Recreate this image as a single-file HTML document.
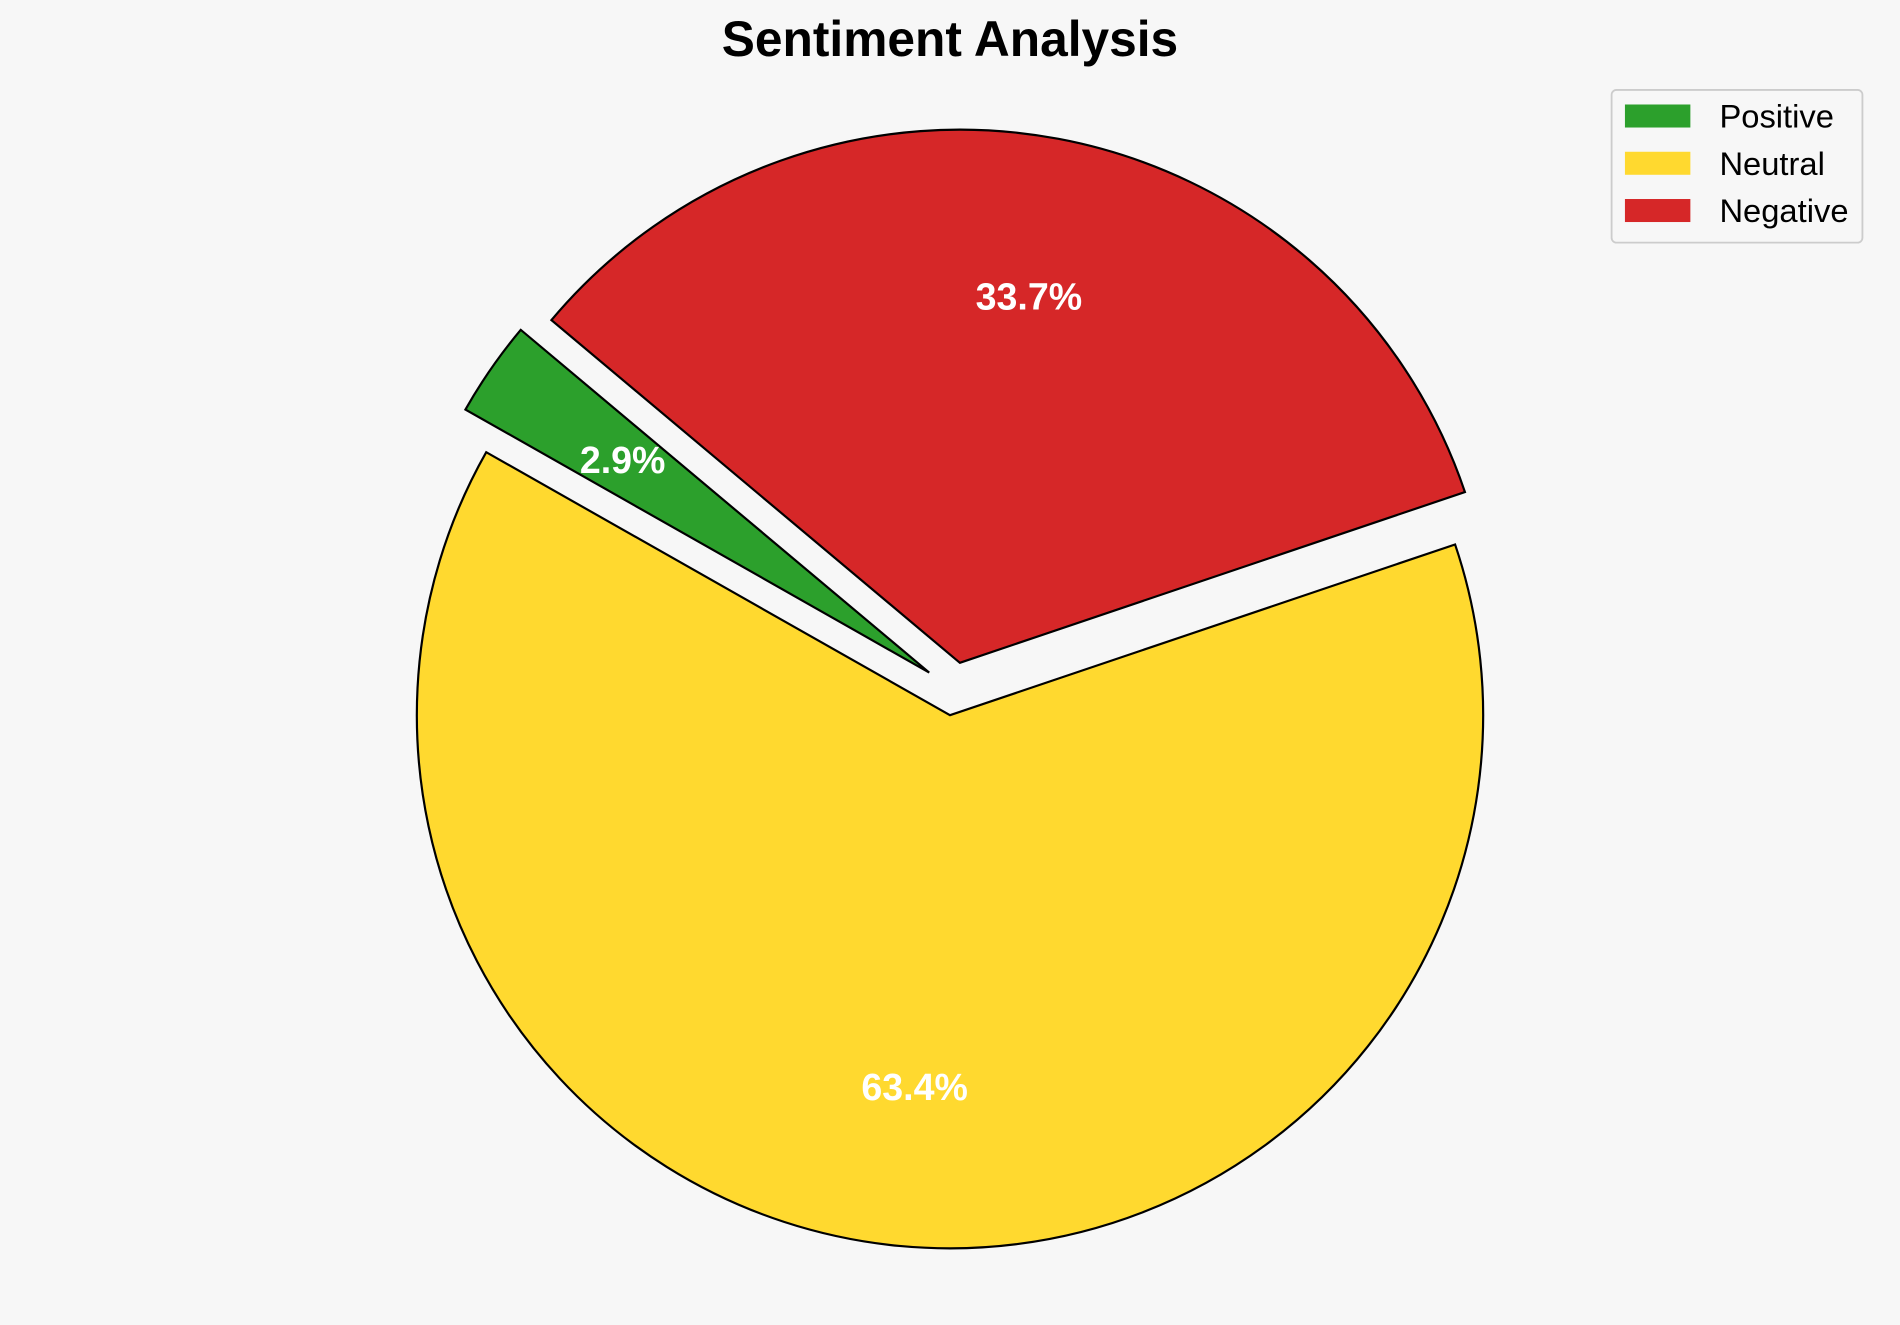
<!DOCTYPE html>
<html><head><meta charset="utf-8">
<style>
html,body{margin:0;padding:0;background:#f7f7f7;}
svg{display:block;font-family:"Liberation Sans",Arial,sans-serif;}
</style></head>
<body>
<svg id="chart" width="1900" height="1325" viewBox="0 0 1568 1093" xmlns="http://www.w3.org/2000/svg">
<rect width="1568" height="1093" fill="#f7f7f7"/>
<text x="784" y="46" text-anchor="middle" font-size="41" font-weight="bold" fill="#000">Sentiment Analysis</text>
<g id="wedges"></g>
<g id="labels"></g>
<g>
<rect x="1330" y="74" width="207" height="126" rx="4" fill="#f7f7f7" stroke="#cccccc" stroke-width="1.5"/>
<g id="legend-items"></g>
</g>
</svg>
<script>
const categories = ["Positive", "Neutral", "Negative"];
const values = [2.9, 63.4, 33.7];
const explode = [0.089, 0, 0.1];
const explodeDir = [116, null, null];
const colors = ["#2ca02c", "#ffd92f", "#d62728"];
const startAngle = 140;
const cx = 784, cy = 590, R = 440, pctDist = 0.70;
const NS = "http://www.w3.org/2000/svg";
const wg = document.getElementById("wedges");
const lg = document.getElementById("labels");
const total = values.reduce((a,b)=>a+b,0);
let a0 = startAngle;
function pt(x,y,ang,r){const t=ang*Math.PI/180;return [x+r*Math.cos(t), y-r*Math.sin(t)];}
values.forEach((v,i)=>{
  const span = v/total*360;
  const a1 = a0+span, mid = a0+span/2;
  const dir = explodeDir[i]===null ? mid : explodeDir[i];
  const [ox,oy] = pt(cx,cy,dir,explode[i]*R);
  const [x0,y0] = pt(ox,oy,a0,R), [x1,y1] = pt(ox,oy,a1,R);
  const p = document.createElementNS(NS,"path");
  p.setAttribute("d",`M${ox},${oy} L${x0},${y0} A${R},${R} 0 ${span>180?1:0} 0 ${x1},${y1} Z`);
  p.setAttribute("fill",colors[i]);
  p.setAttribute("stroke","#000");
  p.setAttribute("stroke-width","1.8");
  p.setAttribute("stroke-linejoin","miter");
  
  
  wg.appendChild(p);
  const [lx,ly] = pt(ox,oy,mid,pctDist*R);
  const t = document.createElementNS(NS,"text");
  t.setAttribute("x",lx); t.setAttribute("y",ly+11);
  t.setAttribute("text-anchor","middle");
  t.setAttribute("font-size","31"); t.setAttribute("font-weight","bold");
  t.setAttribute("fill","#fff");
  t.textContent = v.toFixed(1)+"%";
  
  
  lg.appendChild(t);
  a0 = a1;
});
const li = document.getElementById("legend-items");
categories.forEach((c,i)=>{
  const y = 86 + i*39;
  const g = document.createElementNS(NS,"g");
  
  
  const r = document.createElementNS(NS,"rect");
  r.setAttribute("x",1341); r.setAttribute("y",y); r.setAttribute("width",54); r.setAttribute("height",19);
  r.setAttribute("fill",colors[i]);
  g.appendChild(r);
  const t = document.createElementNS(NS,"text");
  t.setAttribute("x",1419); t.setAttribute("y",y+19);
  t.setAttribute("font-size","27"); t.setAttribute("fill","#000");
  t.textContent = c;
  g.appendChild(t);
  li.appendChild(g);
});
</script>
</body></html>
